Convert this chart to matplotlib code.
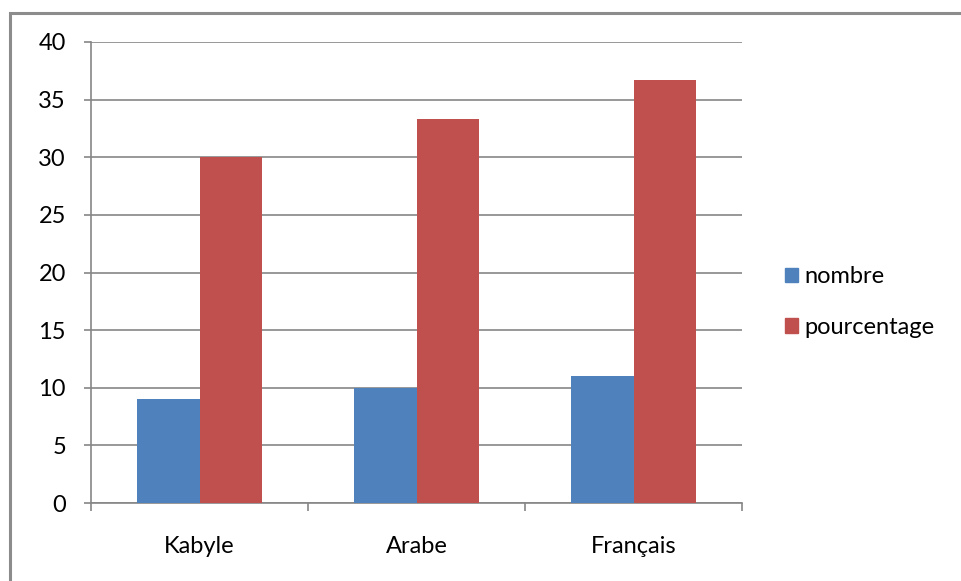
import numpy as np
import matplotlib
matplotlib.use("Agg")
import matplotlib.pyplot as plt
from matplotlib.patches import Rectangle, Patch

categories = ["Kabyle", "Arabe", "Français"]
nombre = [9, 10, 11]
pourcentage = [30, 33.33, 36.67]

plt.rcParams['font.family'] = ['Lato', 'DejaVu Sans']

fig = plt.figure(figsize=(9.61, 5.81), dpi=100)
fig.patches.append(Rectangle((10 / 961, -0.1), 1.2, 1 - 13 / 581 + 0.1,
                             transform=fig.transFigure, fill=False,
                             edgecolor='#8c8c8c', linewidth=2.2))
ax = fig.add_axes([91 / 961, 1 - 503 / 581, 651 / 961, 461 / 581])

x = np.arange(len(categories))
w = 0.286
ax.bar(x - w / 2, nombre, w, color='#4F81BD', label='nombre', zorder=3)
ax.bar(x + w / 2, pourcentage, w, color='#C0504D', label='pourcentage', zorder=3)

ax.set_xlim(-0.5, 2.5)
ax.set_ylim(0, 40)
ax.set_yticks(range(0, 41, 5))
ax.yaxis.grid(True, color='#868686', linewidth=1.2, zorder=0)

ax.set_xticks(x)
ax.set_xticklabels(categories, fontsize=17)
ax.tick_params(axis='x', length=0, pad=24)
ax.set_xticks([-0.5, 0.5, 1.5, 2.5], minor=True)
ax.tick_params(axis='x', which='minor', length=6, color='#868686', width=1.2)
ax.tick_params(axis='y', length=5, color='#868686', width=1.2, labelsize=17, pad=13)

for s in ['top', 'right']:
    ax.spines[s].set_visible(False)
for s in ['left', 'bottom']:
    ax.spines[s].set_color('#868686')
    ax.spines[s].set_linewidth(1.2)

handles = [Patch(color='#4F81BD'), Patch(color='#C0504D')]
ax.legend(handles, ['nombre', 'pourcentage'], loc='center left',
          bbox_to_anchor=(1.048, 0.436), frameon=False, fontsize=17,
          handlelength=0.55, handleheight=0.55, handletextpad=0.25,
          labelspacing=1.25, borderpad=0)

fig.savefig("out.png", dpi=100)
